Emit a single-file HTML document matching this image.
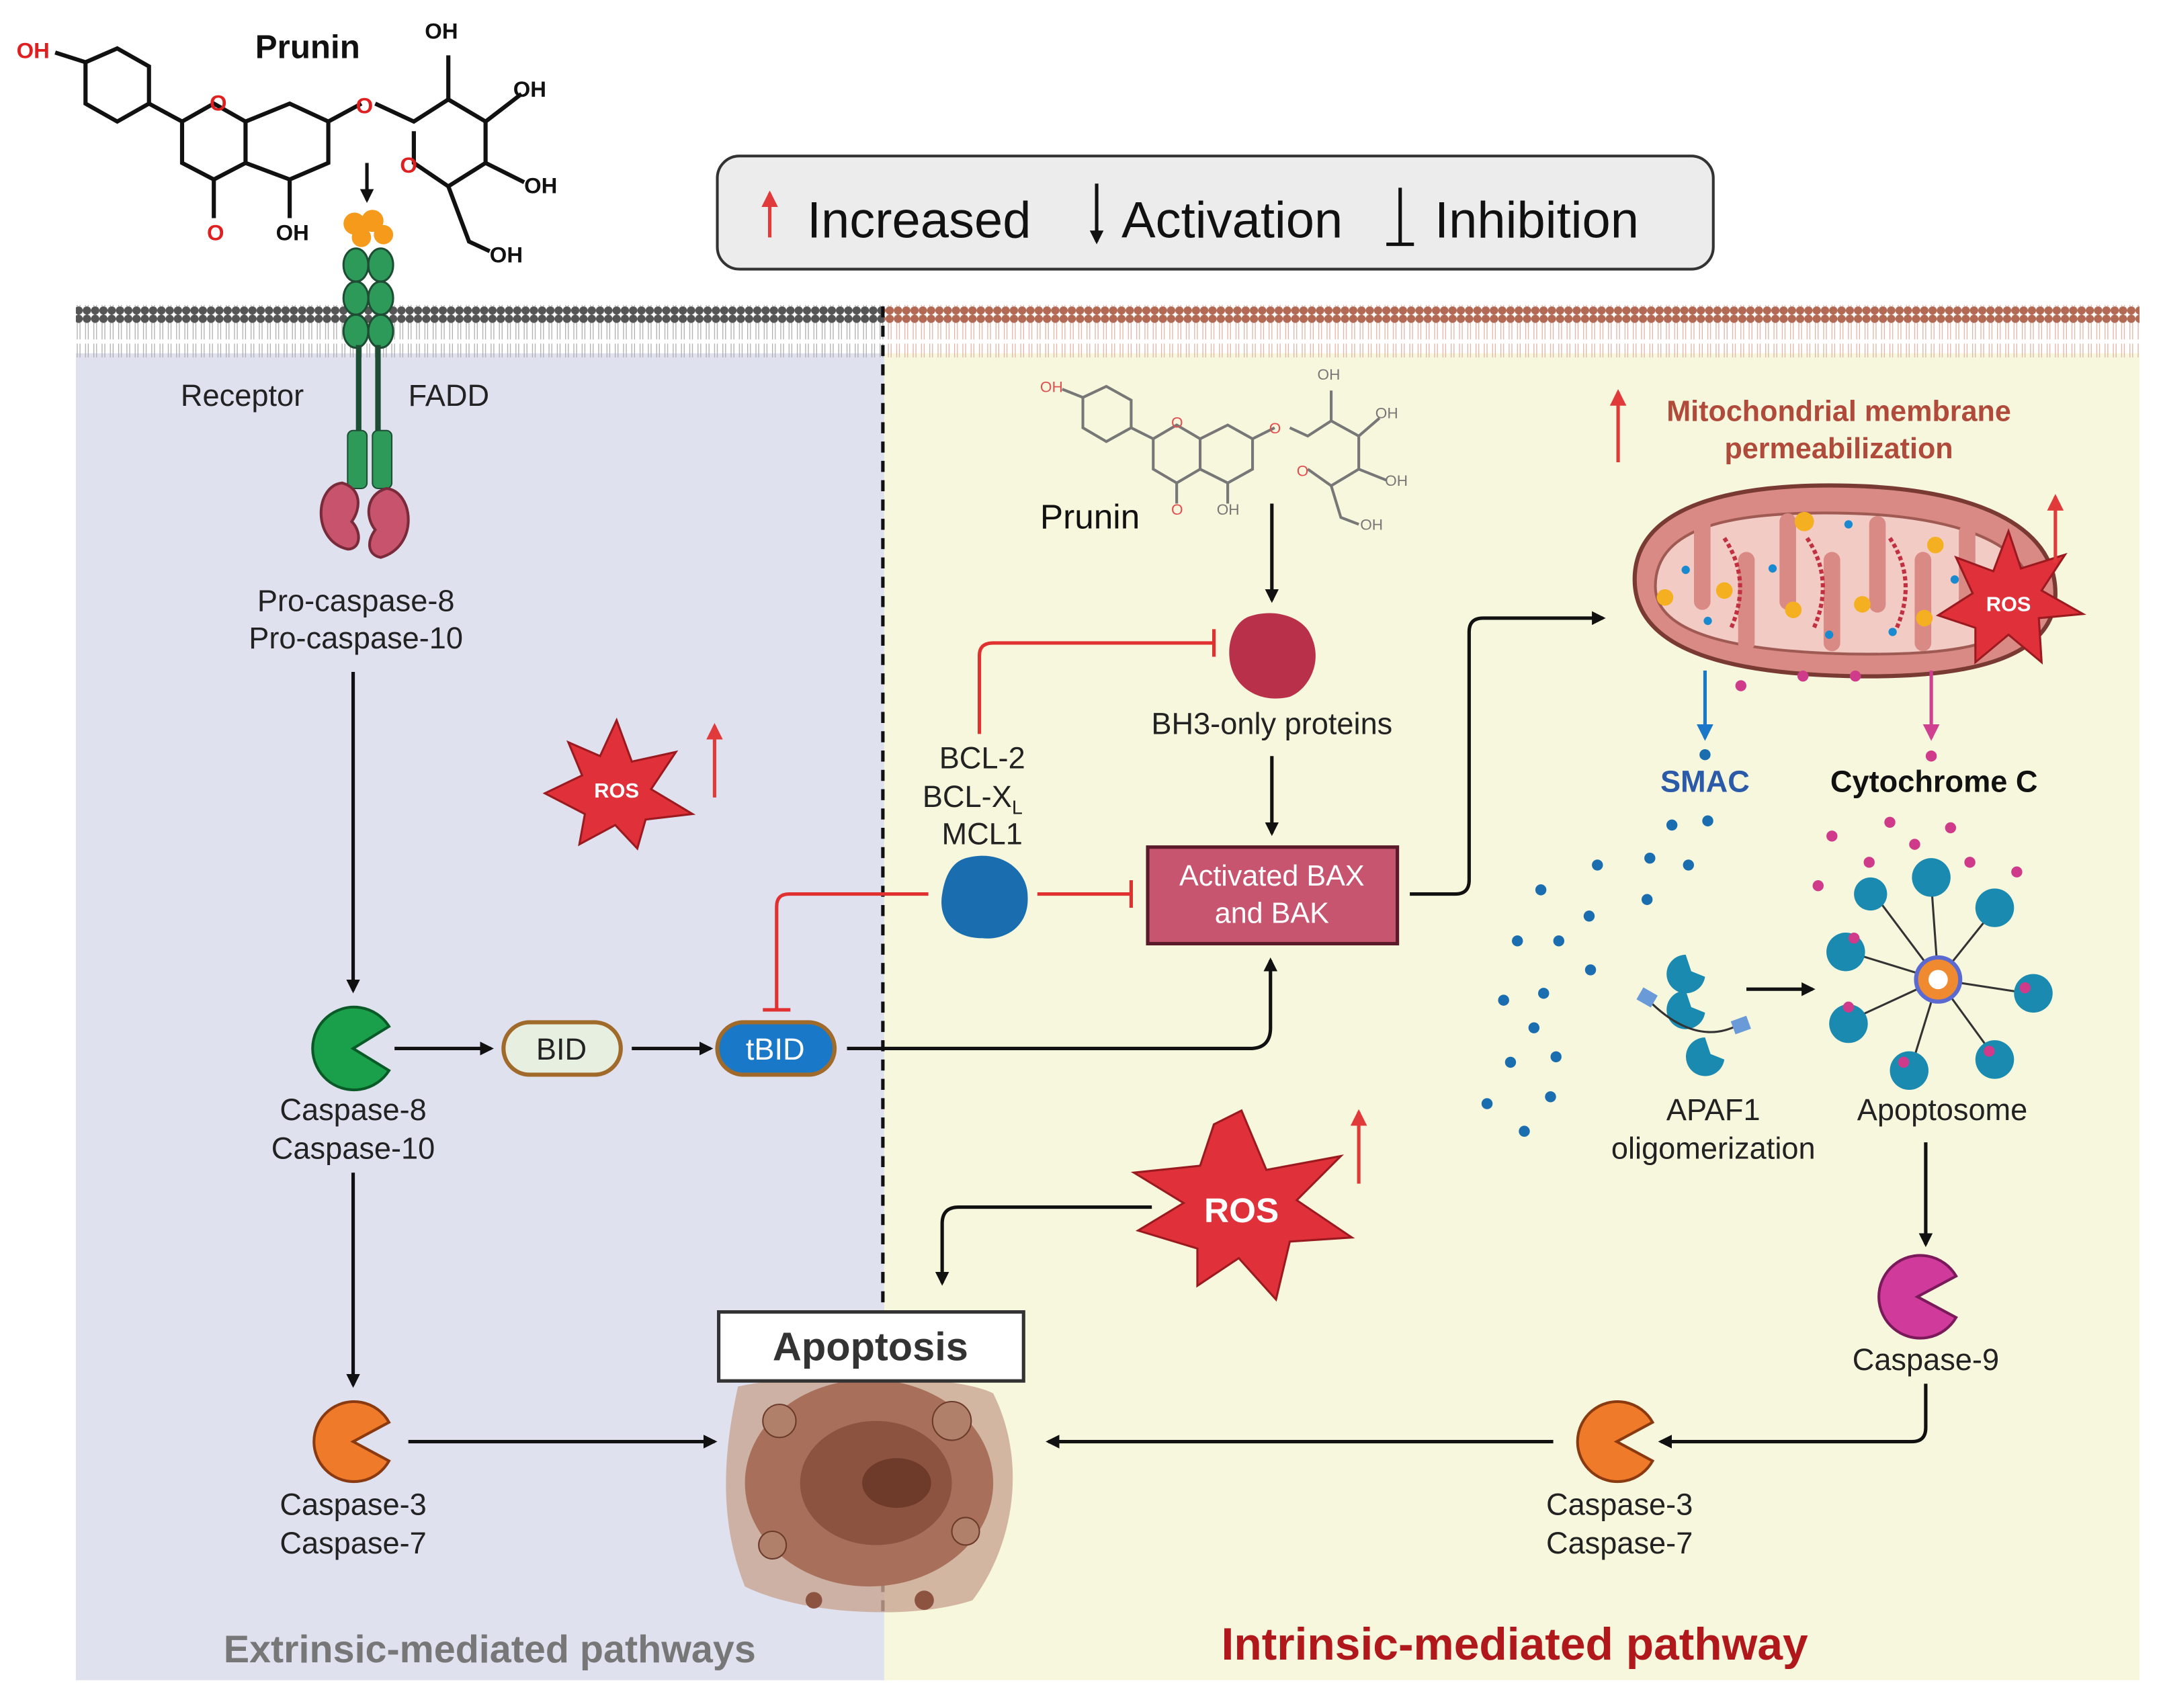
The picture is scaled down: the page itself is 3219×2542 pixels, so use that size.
<!DOCTYPE html>
<html><head><meta charset="utf-8"><style>html,body{margin:0;padding:0;background:#fff}svg{display:block}text{font-family:"Liberation Sans",sans-serif}</style></head><body>
<svg width="3219" height="2542" viewBox="0 0 1568 1238" xmlns="http://www.w3.org/2000/svg">
<defs>
<marker id="ab" markerWidth="10" markerHeight="10" refX="8" refY="5" orient="auto" markerUnits="userSpaceOnUse"><path d="M0,0 L10,5 L0,10 z" fill="#111"/></marker>
<marker id="ab2" markerWidth="16" markerHeight="14" refX="14" refY="7" orient="auto" markerUnits="userSpaceOnUse"><path d="M0,0 L16,7 L0,14 z" fill="#111"/></marker>
<marker id="ar" markerWidth="12" markerHeight="12" refX="10" refY="6" orient="auto" markerUnits="userSpaceOnUse"><path d="M0,0 L12,6 L0,12 z" fill="#e03a3a"/></marker>
<marker id="abl" markerWidth="12" markerHeight="12" refX="10" refY="6" orient="auto" markerUnits="userSpaceOnUse"><path d="M0,0 L12,6 L0,12 z" fill="#1a78c8"/></marker>
<marker id="apk" markerWidth="12" markerHeight="12" refX="10" refY="6" orient="auto" markerUnits="userSpaceOnUse"><path d="M0,0 L12,6 L0,12 z" fill="#d04090"/></marker>
<pattern id="memg" width="6" height="38" patternUnits="userSpaceOnUse"><circle cx="3" cy="3" r="3" fill="#555"/><circle cx="3" cy="35" r="3" fill="#555"/><path d="M2,6 L2,18 M4,6 L4,18 M2,21 L2,32 M4,21 L4,32" stroke="#aaa" stroke-width="0.6"/></pattern>
<pattern id="memb" width="6" height="38" patternUnits="userSpaceOnUse"><circle cx="3" cy="3" r="3" fill="#b36a55"/><circle cx="3" cy="35" r="3" fill="#b36a55"/><path d="M2,6 L2,18 M4,6 L4,18 M2,21 L2,32 M4,21 L4,32" stroke="#e0b0a0" stroke-width="0.6"/></pattern>
</defs>
<rect width="1568" height="1238" fill="#fff"/>
<rect x="55" y="256" width="586" height="962" fill="#dfe1ef"/>
<rect x="641" y="256" width="910" height="962" fill="#f7f7dd"/>
<rect x="55" y="221" width="586" height="38" fill="url(#memg)"/>
<rect x="641" y="221" width="910" height="38" fill="url(#memb)"/>
<line x1="640" y1="222" x2="640" y2="1170" stroke="#111" stroke-width="2.5" stroke-dasharray="8,6"/>

<!-- Legend -->
<rect x="520" y="113" width="722" height="82" rx="16" fill="#ececec" stroke="#333" stroke-width="2"/>
<line x1="558" y1="172" x2="558" y2="140" stroke="#e03a3a" stroke-width="2.5" marker-end="url(#ar)"/>
<text x="585" y="172" font-size="37" fill="#111">Increased</text>
<line x1="795" y1="133" x2="795" y2="175" stroke="#111" stroke-width="2.5" marker-end="url(#ab)"/>
<text x="813" y="172" font-size="37" fill="#111">Activation</text>
<line x1="1015" y1="136" x2="1015" y2="176" stroke="#111" stroke-width="2.5"/><line x1="1005" y1="177" x2="1025" y2="177" stroke="#111" stroke-width="2.5"/>
<text x="1040" y="172" font-size="37" fill="#111">Inhibition</text>

<!-- Top prunin molecule -->
<g stroke="#111" stroke-width="3" fill="none">
<path d="M62,45 L85,35 L108,48 L108,75 L85,88 L62,75 Z"/><path d="M40,38 L62,45"/>
<path d="M108,75 L132,88 L155,75 L178,88 L178,118 L155,130 L132,118 L132,88"/>
<path d="M178,88 L210,75 L238,88 L238,118 L210,130 L178,118"/><path d="M238,88 L262,75"/>
<path d="M155,130 L155,158 M210,130 L210,158"/>
<path d="M272,75 L300,88 L325,72 L352,88 L352,118 L325,135 L300,118 L300,95"/>
<path d="M325,72 L325,40 M352,88 L378,68 M352,118 L380,132 M325,135 L340,175 L355,182"/>
</g>
<text x="12" y="42" font-size="16" font-weight="bold" fill="#e02020">OH</text>
<text x="152" y="80" font-size="16" font-weight="bold" fill="#e02020">O</text>
<text x="258" y="82" font-size="16" font-weight="bold" fill="#e02020">O</text>
<text x="290" y="125" font-size="16" font-weight="bold" fill="#e02020">O</text>
<text x="150" y="174" font-size="16" font-weight="bold" fill="#e02020">O</text>
<text x="200" y="174" font-size="16" font-weight="bold" fill="#111">OH</text>
<text x="308" y="28" font-size="16" font-weight="bold" fill="#111">OH</text>
<text x="372" y="70" font-size="16" font-weight="bold" fill="#111">OH</text>
<text x="380" y="140" font-size="16" font-weight="bold" fill="#111">OH</text>
<text x="355" y="190" font-size="16" font-weight="bold" fill="#111">OH</text>
<text x="185" y="42" font-size="24" font-weight="bold" fill="#111">Prunin</text>
<line x1="266" y1="118" x2="266" y2="145" stroke="#111" stroke-width="2.5" marker-end="url(#ab)"/>

<!-- receptor -->
<g>
<circle cx="257" cy="162" r="8" fill="#f59a1a"/><circle cx="270" cy="160" r="8" fill="#f59a1a"/><circle cx="278" cy="170" r="7" fill="#f59a1a"/><circle cx="262" cy="172" r="7" fill="#f59a1a"/>
<g fill="#2e9a5a" stroke="#1d4d33" stroke-width="1.5">
<ellipse cx="258" cy="192" rx="9" ry="12"/><ellipse cx="276" cy="192" rx="9" ry="12"/>
<ellipse cx="258" cy="216" rx="9" ry="12"/><ellipse cx="276" cy="216" rx="9" ry="12"/>
<ellipse cx="258" cy="240" rx="9" ry="12"/><ellipse cx="276" cy="240" rx="9" ry="12"/>
</g>
<rect x="258" y="250" width="4" height="70" fill="#1d4d33"/><rect x="272" y="250" width="4" height="70" fill="#1d4d33"/>
<rect x="252" y="312" width="14" height="42" rx="4" fill="#2e9a5a" stroke="#1d4d33"/><rect x="270" y="312" width="14" height="42" rx="4" fill="#2e9a5a" stroke="#1d4d33"/>
<path d="M248,350 C228,352 226,392 252,398 C262,398 262,385 255,378 C262,368 262,354 248,350 Z" fill="#c8536c" stroke="#7a2b3b" stroke-width="2"/>
<path d="M280,354 C300,356 304,396 276,404 C266,402 266,392 272,384 C264,374 266,358 280,354 Z" fill="#c8536c" stroke="#7a2b3b" stroke-width="2"/>
</g>
<text x="131" y="294" font-size="22" fill="#222">Receptor</text>
<text x="296" y="294" font-size="22" fill="#222">FADD</text>
<text x="258" y="443" font-size="22" fill="#222" text-anchor="middle">Pro-caspase-8</text>
<text x="258" y="470" font-size="22" fill="#222" text-anchor="middle">Pro-caspase-10</text>
<line x1="256" y1="487" x2="256" y2="718" stroke="#111" stroke-width="2.5" marker-end="url(#ab)"/>

<!-- ROS left -->
<path d="M447,522 L458,552 L490,545 L472,572 L502,590 L468,594 L462,615 L446,598 L420,612 L424,590 L395,575 L422,562 L412,538 L435,548 Z" fill="#e0313a" stroke="#9a1a20" stroke-width="1.5"/>
<text x="447" y="578" font-size="15" font-weight="bold" fill="#fff" text-anchor="middle">ROS</text>
<line x1="518" y1="578" x2="518" y2="526" stroke="#e03a3a" stroke-width="2.5" marker-end="url(#ar)"/>

<!-- Caspase-8 -->
<path d="M256,760 L282,744 A30,30 0 1 0 282,776 Z" fill="#1aa04a" stroke="#0a5a28" stroke-width="2"/>
<text x="256" y="812" font-size="22" fill="#222" text-anchor="middle">Caspase-8</text>
<text x="256" y="840" font-size="22" fill="#222" text-anchor="middle">Caspase-10</text>
<line x1="286" y1="760" x2="356" y2="760" stroke="#111" stroke-width="2.5" marker-end="url(#ab)"/>
<rect x="365" y="741" width="85" height="38" rx="19" fill="#e6efe0" stroke="#a06a2a" stroke-width="3"/>
<text x="407" y="768" font-size="22" fill="#222" text-anchor="middle">BID</text>
<line x1="458" y1="760" x2="515" y2="760" stroke="#111" stroke-width="2.5" marker-end="url(#ab)"/>
<rect x="520" y="741" width="85" height="38" rx="19" fill="#1a78c8" stroke="#a06a2a" stroke-width="3"/>
<text x="562" y="768" font-size="22" fill="#fff" text-anchor="middle">tBID</text>
<path d="M614,760 L906,760 Q921,760 921,745 L921,696" fill="none" stroke="#111" stroke-width="2.5" marker-end="url(#ab)"/>
<line x1="256" y1="850" x2="256" y2="1004" stroke="#111" stroke-width="2.5" marker-end="url(#ab)"/>

<!-- Caspase-3 left -->
<path d="M256,1045 L282,1031 A29,29 0 1 0 282,1059 Z" fill="#ee7a2a" stroke="#8a3a10" stroke-width="2"/>
<text x="256" y="1098" font-size="22" fill="#222" text-anchor="middle">Caspase-3</text>
<text x="256" y="1126" font-size="22" fill="#222" text-anchor="middle">Caspase-7</text>
<line x1="296" y1="1045" x2="518" y2="1045" stroke="#111" stroke-width="2.5" marker-end="url(#ab)"/>

<!-- Apoptosis cell -->
<g>
<path d="M535,1005 C580,995 690,995 720,1010 C745,1060 735,1120 705,1160 C660,1175 580,1170 540,1150 C520,1100 525,1050 535,1005 Z" fill="#c9a592" opacity="0.8"/>
<ellipse cx="630" cy="1075" rx="90" ry="75" fill="#a8705a"/>
<ellipse cx="635" cy="1075" rx="55" ry="45" fill="#8c5440"/>
<ellipse cx="650" cy="1075" rx="25" ry="18" fill="#6e3a2a"/>
<circle cx="565" cy="1030" r="12" fill="#b0806a" stroke="#6a3a2a"/><circle cx="690" cy="1030" r="14" fill="#b0806a" stroke="#6a3a2a"/>
<circle cx="700" cy="1110" r="10" fill="#b0806a" stroke="#6a3a2a"/><circle cx="560" cy="1120" r="10" fill="#b0806a" stroke="#6a3a2a"/>
<circle cx="590" cy="1160" r="6" fill="#8c5440"/><circle cx="670" cy="1160" r="7" fill="#8c5440"/>
</g>
<rect x="521" y="951" width="221" height="50" fill="#fff" stroke="#333" stroke-width="2.5"/>
<text x="631" y="986" font-size="29" font-weight="bold" fill="#333" text-anchor="middle">Apoptosis</text>

<!-- Right prunin -->
<g stroke="#777" stroke-width="2" fill="none">
<path d="M785,288 L802,280 L820,290 L820,310 L802,320 L785,310 Z"/><path d="M770,282 L785,288"/>
<path d="M820,310 L836,318 L853,308 L870,318 L870,340 L853,350 L836,340 L836,318"/>
<path d="M870,318 L890,308 L908,318 L908,340 L890,350 L870,340"/><path d="M908,318 L924,310"/>
<path d="M853,350 L853,365 M890,350 L890,365"/>
<path d="M935,310 L948,316 L965,305 L985,316 L985,340 L965,352 L948,340"/>
<path d="M965,305 L965,283 M985,316 L1000,303 M985,340 L1005,348 M965,352 L972,375 L985,380"/>
</g>
<g font-size="11" fill="#e05050"><text x="754" y="284">OH</text><text x="849" y="310">O</text><text x="920" y="314">O</text><text x="940" y="345">O</text><text x="849" y="373">O</text></g>
<g font-size="11" fill="#777"><text x="882" y="373">OH</text><text x="955" y="275">OH</text><text x="997" y="303">OH</text><text x="1004" y="352">OH</text><text x="986" y="384">OH</text></g>
<text x="754" y="383" font-size="25" fill="#111">Prunin</text>
<line x1="922" y1="365" x2="922" y2="435" stroke="#111" stroke-width="2.5" marker-end="url(#ab)"/>

<!-- BH3 -->
<path d="M905,447 C925,440 945,448 950,460 C960,480 948,500 935,505 C915,510 898,500 893,485 C888,470 893,452 905,447 Z" fill="#b8304a"/>
<text x="922" y="532" font-size="22" fill="#222" text-anchor="middle">BH3-only proteins</text>
<path d="M710,532 L710,475 Q710,466 720,466 L880,466" fill="none" stroke="#e03030" stroke-width="2.5"/>
<line x1="880" y1="456" x2="880" y2="476" stroke="#e03030" stroke-width="2.5"/>
<line x1="922" y1="548" x2="922" y2="604" stroke="#111" stroke-width="2.5" marker-end="url(#ab)"/>
<text x="712" y="557" font-size="22" fill="#222" text-anchor="middle">BCL-2</text>
<text x="705" y="585" font-size="22" fill="#222" text-anchor="middle">BCL-X<tspan font-size="14" dy="5">L</tspan></text>
<text x="712" y="612" font-size="22" fill="#222" text-anchor="middle">MCL1</text>
<path d="M700,622 C725,615 745,630 745,650 C746,672 728,682 712,680 C690,680 680,665 683,648 C685,635 690,625 700,622 Z" fill="#1a6eb0"/>
<path d="M673,648 L572,648 Q563,648 563,657 L563,732" fill="none" stroke="#e03030" stroke-width="2.5"/>
<line x1="553" y1="732" x2="573" y2="732" stroke="#e03030" stroke-width="2.5"/>
<line x1="752" y1="648" x2="820" y2="648" stroke="#e03030" stroke-width="2.5"/>
<line x1="820" y1="638" x2="820" y2="658" stroke="#e03030" stroke-width="2.5"/>
<rect x="832" y="614" width="181" height="70" fill="#c85570" stroke="#5a1a2a" stroke-width="2.5"/>
<text x="922" y="642" font-size="21" fill="#fff" text-anchor="middle">Activated BAX</text>
<text x="922" y="669" font-size="21" fill="#fff" text-anchor="middle">and BAK</text>
<path d="M1022,648 L1055,648 Q1065,648 1065,638 L1065,458 Q1065,448 1075,448 L1162,448" fill="none" stroke="#111" stroke-width="2.5" marker-end="url(#ab)"/>

<!-- Mitochondria -->
<line x1="1173" y1="335" x2="1173" y2="284" stroke="#e03a3a" stroke-width="2.5" marker-end="url(#ar)"/>
<text x="1333" y="305" font-size="21" font-weight="bold" fill="#b04a3a" text-anchor="middle">Mitochondrial membrane</text>
<text x="1333" y="332" font-size="21" font-weight="bold" fill="#b04a3a" text-anchor="middle">permeabilization</text>
<path d="M1185,420 C1185,365 1260,350 1340,352 C1430,354 1490,380 1490,430 C1490,480 1420,492 1340,490 C1250,488 1185,470 1185,420 Z" fill="#d98a84" stroke="#7a3a34" stroke-width="3"/>
<path d="M1200,425 C1200,380 1260,370 1340,372 C1420,374 1472,395 1472,430 C1472,470 1410,475 1340,474 C1260,472 1200,460 1200,425 Z" fill="#f2cbc4" stroke="#a05a54" stroke-width="2"/>
<g fill="#d98a84"><rect x="1228" y="372" width="12" height="70" rx="6"/><rect x="1260" y="400" width="12" height="72" rx="6"/><rect x="1290" y="372" width="12" height="70" rx="6"/><rect x="1322" y="400" width="12" height="72" rx="6"/><rect x="1355" y="374" width="12" height="70" rx="6"/><rect x="1388" y="400" width="12" height="72" rx="6"/><rect x="1420" y="380" width="12" height="64" rx="6"/></g>
<path d="M1250,390 Q1270,420 1255,455 M1310,390 Q1330,420 1315,455 M1370,390 Q1390,420 1375,455" stroke="#c03040" stroke-width="3" fill="none" stroke-dasharray="3,2"/>
<g fill="#f4b020"><circle cx="1207" cy="433" r="6"/><circle cx="1250" cy="428" r="6"/><circle cx="1308" cy="378" r="7"/><circle cx="1300" cy="442" r="6"/><circle cx="1350" cy="438" r="6"/><circle cx="1403" cy="395" r="6"/><circle cx="1395" cy="448" r="6"/></g>
<g fill="#1a8ad0"><circle cx="1222" cy="413" r="3"/><circle cx="1238" cy="450" r="3"/><circle cx="1285" cy="412" r="3"/><circle cx="1340" cy="380" r="3"/><circle cx="1372" cy="458" r="3"/><circle cx="1417" cy="420" r="3"/><circle cx="1326" cy="460" r="3"/></g>
<path d="M1456,385 L1465,412 L1497,402 L1480,428 L1510,445 L1478,448 L1480,480 L1456,460 L1432,480 L1432,455 L1405,446 L1430,430 L1418,404 L1445,414 Z" fill="#e0313a" stroke="#9a1a20" stroke-width="1.5"/>
<text x="1456" y="443" font-size="15" font-weight="bold" fill="#fff" text-anchor="middle">ROS</text>
<line x1="1490" y1="408" x2="1490" y2="360" stroke="#e03a3a" stroke-width="2.5" marker-end="url(#ar)"/>
<line x1="1236" y1="486" x2="1236" y2="535" stroke="#1a78c8" stroke-width="2.5" marker-end="url(#abl)"/>
<line x1="1400" y1="486" x2="1400" y2="535" stroke="#d04090" stroke-width="2.5" marker-end="url(#apk)"/>
<g fill="#d03a8a"><circle cx="1262" cy="497" r="4"/><circle cx="1307" cy="490" r="4"/><circle cx="1345" cy="490" r="4"/><circle cx="1400" cy="548" r="4"/></g>
<text x="1236" y="574" font-size="22" font-weight="bold" fill="#2a5aa8" text-anchor="middle">SMAC</text>
<text x="1402" y="574" font-size="22" font-weight="bold" fill="#111" text-anchor="middle">Cytochrome C</text>
<g fill="#1a6eb0"><circle cx="1236" cy="547" r="4"/><circle cx="1212" cy="598" r="4"/><circle cx="1238" cy="595" r="4"/><circle cx="1196" cy="622" r="4"/><circle cx="1224" cy="627" r="4"/><circle cx="1158" cy="627" r="4"/><circle cx="1117" cy="645" r="4"/><circle cx="1152" cy="664" r="4"/><circle cx="1194" cy="652" r="4"/><circle cx="1100" cy="682" r="4"/><circle cx="1130" cy="682" r="4"/><circle cx="1153" cy="703" r="4"/><circle cx="1090" cy="725" r="4"/><circle cx="1119" cy="720" r="4"/><circle cx="1112" cy="745" r="4"/><circle cx="1095" cy="770" r="4"/><circle cx="1128" cy="766" r="4"/><circle cx="1078" cy="800" r="4"/><circle cx="1124" cy="795" r="4"/><circle cx="1105" cy="820" r="4"/></g>
<g fill="#d03a8a"><circle cx="1328" cy="606" r="4"/><circle cx="1370" cy="596" r="4"/><circle cx="1388" cy="612" r="4"/><circle cx="1414" cy="600" r="4"/><circle cx="1355" cy="625" r="4"/><circle cx="1428" cy="625" r="4"/><circle cx="1462" cy="632" r="4"/><circle cx="1318" cy="642" r="4"/><circle cx="1356" cy="646" r="4"/></g>
<!-- APAF1 -->
<g fill="#1a8ab0">
<path d="M1222,692 a14,14 0 1 0 14,16 l-10,-4 z"/><path d="M1222,718 a14,14 0 1 0 14,16 l-10,-4 z"/><path d="M1236,752 a14,14 0 1 0 14,16 l-10,-4 z"/>
</g>
<path d="M1195,725 Q1230,760 1262,742" stroke="#333" stroke-width="1.5" fill="none"/>
<rect x="1188" y="718" width="12" height="10" fill="#6a9ad8" transform="rotate(30 1194 723)"/><rect x="1256" y="738" width="12" height="10" fill="#6a9ad8" transform="rotate(-20 1262 743)"/>
<line x1="1266" y1="717" x2="1314" y2="717" stroke="#111" stroke-width="2.5" marker-end="url(#ab)"/>
<text x="1242" y="812" font-size="22" fill="#222" text-anchor="middle">APAF1</text>
<text x="1242" y="840" font-size="22" fill="#222" text-anchor="middle">oligomerization</text>
<!-- Apoptosome -->
<g stroke="#333" stroke-width="1.5" fill="none">
<path d="M1405,710 L1340,690 M1405,710 L1400,640 M1405,710 L1445,660 M1405,710 L1470,720 M1405,710 L1445,765 M1405,710 L1385,775 M1405,710 L1340,740 M1405,710 L1360,650"/>
</g>
<g fill="#1a8ab0">
<circle cx="1338" cy="690" r="14"/><circle cx="1400" cy="636" r="14"/><circle cx="1446" cy="658" r="14"/><circle cx="1474" cy="720" r="14"/><circle cx="1446" cy="768" r="14"/><circle cx="1384" cy="776" r="14"/><circle cx="1340" cy="742" r="14"/><circle cx="1356" cy="648" r="12"/>
</g>
<g fill="#d03a8a"><circle cx="1344" cy="680" r="4"/><circle cx="1468" cy="716" r="4"/><circle cx="1442" cy="762" r="4"/><circle cx="1380" cy="770" r="4"/><circle cx="1340" cy="730" r="4"/></g>
<circle cx="1405" cy="710" r="16" fill="#f08a30" stroke="#5a6ad0" stroke-width="3"/>
<circle cx="1405" cy="710" r="7" fill="#fff"/>
<text x="1408" y="812" font-size="22" fill="#222" text-anchor="middle">Apoptosome</text>
<line x1="1396" y1="828" x2="1396" y2="902" stroke="#111" stroke-width="2.5" marker-end="url(#ab)"/>
<path d="M1390,940 L1418,925 A30,30 0 1 0 1418,955 Z" fill="#d03a9a" stroke="#7a1a5a" stroke-width="2"/>
<text x="1396" y="993" font-size="22" fill="#222" text-anchor="middle">Caspase-9</text>
<path d="M1396,1003 L1396,1035 Q1396,1045 1386,1045 L1204,1045" fill="none" stroke="#111" stroke-width="2.5" marker-end="url(#ab)"/>
<path d="M1172,1045 L1198,1031 A29,29 0 1 0 1198,1059 Z" fill="#ee7a2a" stroke="#8a3a10" stroke-width="2"/>
<text x="1174" y="1098" font-size="22" fill="#222" text-anchor="middle">Caspase-3</text>
<text x="1174" y="1126" font-size="22" fill="#222" text-anchor="middle">Caspase-7</text>
<line x1="1126" y1="1045" x2="760" y2="1045" stroke="#111" stroke-width="2.5" marker-end="url(#ab)"/>

<!-- ROS bottom -->
<path d="M900,805 L918,848 L972,838 L940,870 L980,897 L935,900 L925,942 L898,912 L868,932 L868,905 L825,892 L858,872 L822,850 L870,845 L880,815 Z" fill="#e0313a" stroke="#9a1a20" stroke-width="1.5"/>
<text x="900" y="886" font-size="25" font-weight="bold" fill="#fff" text-anchor="middle">ROS</text>
<line x1="985" y1="858" x2="985" y2="806" stroke="#e03a3a" stroke-width="2.5" marker-end="url(#ar)"/>
<path d="M835,875 L695,875 Q683,875 683,887 L683,930" fill="none" stroke="#111" stroke-width="2.5" marker-end="url(#ab)"/>

<text x="355" y="1205" font-size="28" font-weight="bold" fill="#777" text-anchor="middle">Extrinsic-mediated pathways</text>
<text x="1098" y="1203" font-size="33" font-weight="bold" fill="#b0181c" text-anchor="middle">Intrinsic-mediated pathway</text>
</svg>
</body></html>
